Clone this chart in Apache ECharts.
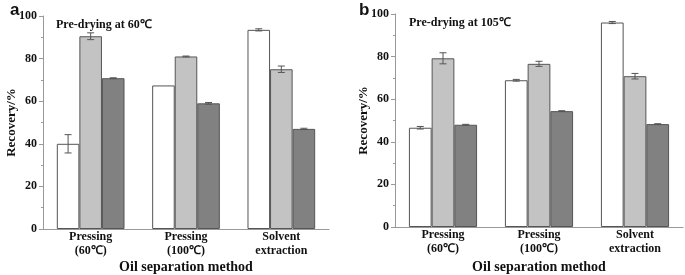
<!DOCTYPE html>
<html>
<head>
<meta charset="utf-8">
<script src="https://cdn.jsdelivr.net/npm/echarts@6/dist/echarts.min.js"></script>
<style>
  html, body { margin: 0; padding: 0; background: #fff; }
  #chart { width: 685px; height: 275px; }
</style>
</head>
<body>
<div id="chart"></div>
<script>
// categories and values
const categories = ['Pressing\n(60℃)', 'Pressing\n(100℃)', 'Solvent\nextraction']
const yTicks = [0, 20, 40, 60, 80, 100]

// panel a: pre-drying at 60 C
const aWhite = [40.0, 67.4, 93.5]
const aWhiteErr = [4.3, 0, 0.5]
const aLight = [90.5, 81.0, 75.0]
const aLightErr = [1.6, 0.2, 1.5]
const aDark = [70.8, 59.0, 47.0]
const aDarkErr = [0.2, 0.4, 0.3]

// panel b: pre-drying at 105 C
const bWhite = [46.6, 68.9, 96.0]
const bWhiteErr = [0.6, 0.4, 0.5]
const bLight = [79.2, 76.6, 70.8]
const bLightErr = [2.6, 1.2, 1.3]
const bDark = [48.0, 54.4, 48.3]
const bDarkErr = [0.2, 0.2, 0.2]

const font = 'Liberation Serif'
const fills = ['#ffffff', '#c3c3c3', '#818181']
const edge = '#555555'

const chart = echarts.init(document.getElementById('chart'), null, { renderer: 'canvas' })

const xAxisFor = (gridIndex, gap) => ({
  type: 'category',
  gridIndex,
  data: categories,
  name: 'Oil separation method',
  nameLocation: 'middle',
  nameGap: gap,
  nameMoveOverlap: false,
  nameTextStyle: { fontFamily: font, fontWeight: 'bold', fontSize: 14, color: '#111' },
  axisLine: { lineStyle: { color: '#999', width: 1 } },
  axisTick: { show: false },
  axisLabel: { fontFamily: font, fontWeight: 'bold', fontSize: 12, color: '#111', lineHeight: 14, margin: 1 },
  splitLine: { show: false }
})

const yAxisFor = (gridIndex) => ({
  type: 'value',
  gridIndex,
  min: 0,
  max: 100,
  interval: 20,
  name: 'Recovery/%',
  nameLocation: 'middle',
  nameGap: 25,
  nameMoveOverlap: false,
  nameTextStyle: { fontFamily: font, fontWeight: 'bold', fontSize: 13, color: '#111' },
  axisLine: { show: true, lineStyle: { color: '#999', width: 1 } },
  axisTick: { show: true, inside: false, length: 4, lineStyle: { color: '#999' } },
  minorTick: { show: true, splitNumber: 2, length: 2, lineStyle: { color: '#999' } },
  axisLabel: {
    fontFamily: font, fontWeight: 'bold', fontSize: 12, color: '#111', margin: 6,
    formatter: (v) => (yTicks.includes(v) ? String(v) : '')
  },
  splitLine: { show: false }
})

const barSeries = (values, idx, axisIndex) => ({
  type: 'bar',
  xAxisIndex: axisIndex,
  yAxisIndex: axisIndex,
  data: values,
  barGap: '0%',
  barCategoryGap: '29%',
  itemStyle: { color: fills[idx], borderColor: edge, borderWidth: 1 },
  silent: true,
  z: 2
})

// error bars drawn at the bar centres
const errorSeries = (values, errs, idx, axisIndex) => ({
  type: 'custom',
  xAxisIndex: axisIndex,
  yAxisIndex: axisIndex,
  data: values.map((v, i) => [i, v, errs[i]]),
  z: 5,
  silent: true,
  renderItem: (params, api) => {
    const i = api.value(0)
    const v = api.value(1)
    const e = api.value(2)
    if (!e) return null
    const catW = api.size([1, 0])[0]
    const barW = catW * 0.71 / 3
    const x = api.coord([i, v])[0] + (idx - 1) * barW
    const top = api.coord([i, v + e])[1]
    const bot = api.coord([i, v - e])[1]
    const cap = 3.5
    const style = { stroke: '#555', lineWidth: 1 }
    return {
      type: 'group',
      children: [
        { type: 'line', shape: { x1: x, y1: top, x2: x, y2: bot }, style },
        { type: 'line', shape: { x1: x - cap, y1: top, x2: x + cap, y2: top }, style },
        { type: 'line', shape: { x1: x - cap, y1: bot, x2: x + cap, y2: bot }, style }
      ]
    }
  }
})

chart.setOption({
  animation: false,
  grid: [
    { left: 43, right: 356, top: 16, bottom: 46, outerBoundsMode: 'none' },
    { left: 395, right: 2, top: 14, bottom: 48, outerBoundsMode: 'none' }
  ],
  title: [
    { text: 'a', left: 5, top: -3, textStyle: { fontFamily: 'Liberation Sans', fontWeight: 'bold', fontSize: 17, color: '#111' } },
    { text: 'b', left: 354, top: -3, textStyle: { fontFamily: 'Liberation Sans', fontWeight: 'bold', fontSize: 17, color: '#111' } },
    { text: 'Pre-drying at 60℃', left: 51, top: 14, textStyle: { fontFamily: font, fontWeight: 'bold', fontSize: 12, color: '#111' } },
    { text: 'Pre-drying at 105℃', left: 404, top: 12, textStyle: { fontFamily: font, fontWeight: 'bold', fontSize: 12, color: '#111' } }
  ],
  xAxis: [xAxisFor(0, 31), xAxisFor(1, 33)],
  yAxis: [yAxisFor(0), yAxisFor(1)],
  series: [
    barSeries(aWhite, 0, 0),
    barSeries(aLight, 1, 0),
    barSeries(aDark, 2, 0),
    barSeries(bWhite, 0, 1),
    barSeries(bLight, 1, 1),
    barSeries(bDark, 2, 1),
    errorSeries(aWhite, aWhiteErr, 0, 0),
    errorSeries(aLight, aLightErr, 1, 0),
    errorSeries(aDark, aDarkErr, 2, 0),
    errorSeries(bWhite, bWhiteErr, 0, 1),
    errorSeries(bLight, bLightErr, 1, 1),
    errorSeries(bDark, bDarkErr, 2, 1)
  ]
})
</script>
</body>
</html>
